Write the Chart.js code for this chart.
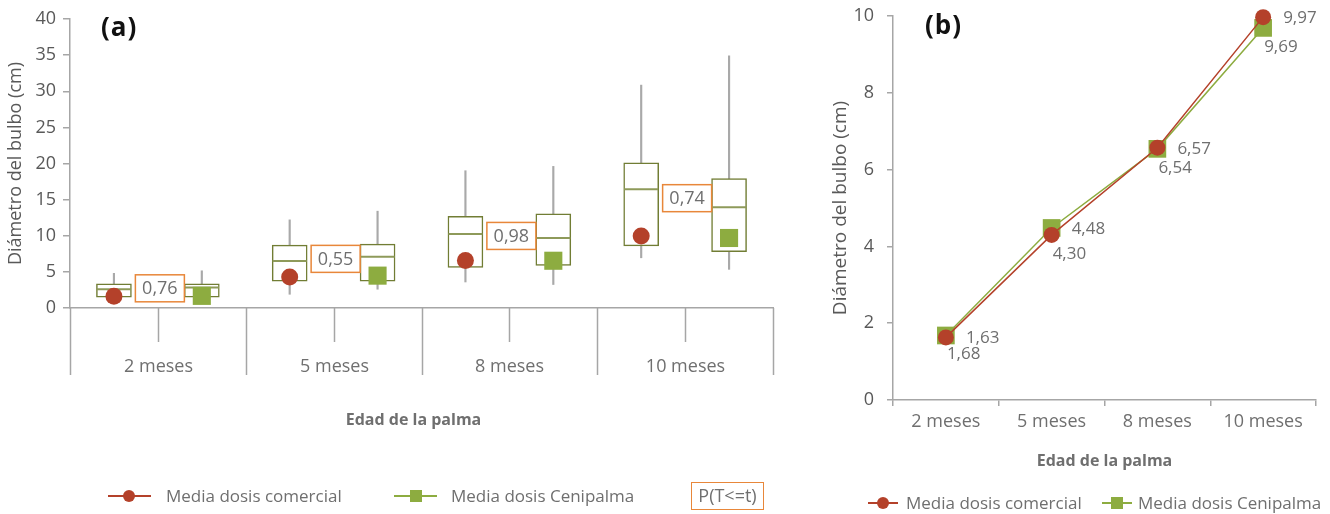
<!DOCTYPE html>
<html>
<head>
<meta charset="utf-8">
<script src="https://cdn.jsdelivr.net/npm/chart.js@4.4.0/dist/chart.umd.min.js"></script>
<style>
html,body{margin:0;padding:0;background:#fff;}
#wrap{position:relative;width:1330px;height:514px;overflow:hidden;font-family:'Open Sans',sans-serif;background:#fff;}
canvas{position:absolute;top:0;}
#ca{left:0;}
#cb{left:800px;}
.t{position:absolute;white-space:nowrap;color:#6f6f6f;font-size:17px;line-height:20px;}
.ln{position:absolute;height:2px;}
.dot{position:absolute;width:12px;height:12px;border-radius:50%;}
.sq{position:absolute;width:12px;height:12px;}
.tag{position:absolute;font-weight:bold;font-size:26px;line-height:30px;color:#111;letter-spacing:1px;}
.pbox{position:absolute;box-sizing:border-box;border:1.5px solid #e8873a;color:#6f6f6f;font-size:18px;line-height:24px;text-align:center;}
</style>
</head>
<body>
<div id="wrap">
  <canvas id="ca" width="800" height="514" style="width:800px;height:514px"></canvas>
  <canvas id="cb" width="530" height="514" style="width:530px;height:514px"></canvas>

  <div class="tag" style="left:101px;top:11px;">(a)</div>
  <div class="tag" style="left:925px;top:9px;">(b)</div>

  <!-- legend (a) -->
  <div class="ln" style="left:108px;top:495px;width:43px;background:#b4412a;"></div>
  <div class="dot" style="left:123px;top:490px;background:#b4412a;"></div>
  <div class="t" style="left:166px;top:486px;">Media dosis comercial</div>
  <div class="ln" style="left:394px;top:495px;width:43px;background:#8dac40;"></div>
  <div class="sq" style="left:410px;top:490px;background:#8dac40;"></div>
  <div class="t" style="left:451px;top:486px;">Media dosis Cenipalma</div>
  <div class="pbox" style="left:691px;top:482px;width:73px;height:28px;">P(T&lt;=t)</div>

  <!-- legend (b) -->
  <div class="ln" style="left:868px;top:502px;width:30px;background:#b4412a;"></div>
  <div class="dot" style="left:877px;top:497px;background:#b4412a;"></div>
  <div class="t" style="left:906px;top:493px;">Media dosis comercial</div>
  <div class="ln" style="left:1102px;top:502px;width:30px;background:#8dac40;"></div>
  <div class="sq" style="left:1111px;top:497px;background:#8dac40;"></div>
  <div class="t" style="left:1138px;top:493px;">Media dosis Cenipalma</div>
</div>

<script>
// ---------- data ----------
const categories = ['2 meses', '5 meses', '8 meses', '10 meses'];

// box plot (a): dosis comercial
const comMin = [0.9, 1.9, 3.6, 6.95];
const comQ1  = [1.5, 3.7, 5.6, 8.6];
const comMed = [2.6, 6.5, 10.25, 16.45];
const comQ3  = [3.35, 8.7, 12.7, 20.1];
const comMax = [4.8, 12.2, 19.0, 30.85];

// box plot (a): dosis Cenipalma
const cenMin = [0.9, 2.6, 3.25, 5.35];
const cenQ1  = [1.5, 3.7, 5.9, 7.8];
const cenMed = [2.85, 7.1, 9.7, 13.95];
const cenQ3  = [3.35, 8.85, 13.05, 17.9];
const cenMax = [5.15, 13.4, 19.6, 34.9];

// means (a) and (b)
const meanCom = [1.63, 4.30, 6.57, 9.97];
const meanCen = [1.68, 4.48, 6.54, 9.69];

// p-values P(T<=t)
const pValues = [0.76, 0.55, 0.98, 0.74];

// tick labels
const yTicksA = [0, 5, 10, 15, 20, 25, 30, 35, 40];
const yTicksB = [0, 2, 4, 6, 8, 10];

// ---------- styles ----------
const RED = '#b4412a';
const GREEN = '#8dac40';
const OLIVE = '#717d34';
const OLIVE_MED = '#8e9a5a';
const AXIS = '#a6a6a6';
const WHISK = '#a9a9a9';
const TEXT = '#6f6f6f';
const TICK = '#595959';
const ORANGE = '#e8873a';
const FONT = "'Open Sans', sans-serif";
const OFF_COM = 0.25, OFF_CEN = 0.75;

Chart.defaults.font.family = FONT;

const fmt = v => v.toFixed(2).replace('.', ',');

// ---------- chart (a) plugins ----------
const axisDecorA = {
  id: 'axisDecorA',
  afterDraw(chart) {
    const {ctx, chartArea, scales: {x}} = chart;
    const b = chartArea.bottom;
    ctx.save();
    ctx.strokeStyle = AXIS;
    ctx.lineWidth = 1.5;
    for (let i = 0; i <= categories.length; i++) {
      const px = Math.round(x.getPixelForValue(i)) + 0.5;
      ctx.beginPath(); ctx.moveTo(px, b); ctx.lineTo(px, b + 67); ctx.stroke();
    }
    ctx.fillStyle = TEXT;
    ctx.font = "18px " + FONT;
    ctx.textAlign = 'center';
    ctx.textBaseline = 'alphabetic';
    categories.forEach((c, i) => {
      const px = Math.round(x.getPixelForValue(i + 0.5)) + 0.5;
      ctx.beginPath(); ctx.moveTo(px, b); ctx.lineTo(px, b + 34); ctx.stroke();
      ctx.fillText(c, px, b + 64);
    });
    ctx.font = "bold 16px " + FONT;
    ctx.fillText('Edad de la palma', (chartArea.left + chartArea.right) / 2 - 8, b + 117);
    ctx.restore();
  }
};

const pLabels = {
  id: 'pLabels',
  afterDatasetsDraw(chart) {
    const {ctx, scales: {x, y}} = chart;
    ctx.save();
    ctx.font = "18px " + FONT;
    ctx.textAlign = 'center';
    ctx.textBaseline = 'middle';
    pValues.forEach((p, i) => {
      const cx = x.getPixelForValue(i + 0.5) + 2;
      const cy = y.getPixelForValue((comMed[i] + cenMed[i]) / 2);
      const w = 49, h = 27;
      ctx.fillStyle = '#fff';
      ctx.fillRect(cx - w / 2, cy - h / 2, w, h);
      ctx.strokeStyle = ORANGE;
      ctx.lineWidth = 1.5;
      ctx.strokeRect(cx - w / 2, cy - h / 2, w, h);
      ctx.fillStyle = TEXT;
      ctx.fillText(fmt(p), cx, cy + 1);
    });
    ctx.restore();
  }
};

const mk = (arr, off) => arr.map((v, i) => ({x: i + off, y: v}));
const mkRange = (lo, hi, off) => lo.map((v, i) => ({x: i + off, y: [v, hi[i]]}));

new Chart(document.getElementById('ca'), {
  type: 'bar',
  data: {
    datasets: [
      {type: 'bar', label: 'wc', data: mkRange(comMin, comMax, OFF_COM), backgroundColor: WHISK, borderWidth: 0, barThickness: 1.5, grouped: false, order: 10},
      {type: 'bar', label: 'wn', data: mkRange(cenMin, cenMax, OFF_CEN), backgroundColor: WHISK, borderWidth: 0, barThickness: 1.5, grouped: false, order: 10},
      {type: 'bar', label: 'bc', data: mkRange(comQ1, comQ3, OFF_COM), backgroundColor: '#fff', borderColor: OLIVE, borderWidth: 1.5, borderSkipped: false, barThickness: 35, grouped: false, order: 8},
      {type: 'bar', label: 'bn', data: mkRange(cenQ1, cenQ3, OFF_CEN), backgroundColor: '#fff', borderColor: OLIVE, borderWidth: 1.5, borderSkipped: false, barThickness: 35, grouped: false, order: 8},
      {type: 'line', label: 'mc', data: mk(comMed, OFF_COM), showLine: false, pointStyle: 'line', pointRadius: 17, pointBorderColor: OLIVE_MED, pointBorderWidth: 2, order: 6, clip: false},
      {type: 'line', label: 'mn', data: mk(cenMed, OFF_CEN), showLine: false, pointStyle: 'line', pointRadius: 17, pointBorderColor: OLIVE_MED, pointBorderWidth: 2, order: 6, clip: false},
      {type: 'line', label: 'Media dosis comercial', data: mk(meanCom, OFF_COM), showLine: false, pointStyle: 'circle', pointRadius: 8.5, pointBackgroundColor: RED, pointBorderWidth: 0, order: 1, clip: false},
      {type: 'line', label: 'Media dosis Cenipalma', data: mk(meanCen, OFF_CEN), showLine: false, pointStyle: 'rect', pointRadius: 12.8, pointBackgroundColor: GREEN, pointBorderWidth: 0, order: 2, clip: false}
    ]
  },
  options: {
    responsive: false, animation: false, events: [],
    layout: {padding: {top: 18, right: 27, left: 0, bottom: 0}},
    plugins: {legend: {display: false}, tooltip: {enabled: false}},
    scales: {
      x: {
        type: 'linear', min: 0, max: categories.length, offset: false,
        grid: {display: false}, ticks: {display: false},
        border: {color: AXIS, width: 1.5},
        afterFit: s => { s.height = 206; }
      },
      y: {
        min: 0, max: 40,
        afterBuildTicks: s => { s.ticks = yTicksA.map(v => ({value: v})); },
        ticks: {padding: 7, color: TICK, font: {size: 18}},
        grid: {drawOnChartArea: false, tickLength: 7, color: AXIS, lineWidth: 1.5},
        border: {color: AXIS, width: 1.5},
        title: {display: true, text: 'Diámetro del bulbo (cm)', color: TICK, font: {size: 18}, padding: {top: 5, bottom: 0}},
        afterFit: s => { s.width = 70; s.paddingTop = 0; s.paddingBottom = 0; }
      }
    }
  },
  plugins: [axisDecorA, pLabels]
});

// ---------- chart (b) ----------
const placeCom = ['right', 'below', 'right', 'right'];
const placeCen = ['below', 'right', 'below', 'below'];

const pointLabelsB = {
  id: 'pointLabelsB',
  afterDatasetsDraw(chart) {
    const {ctx} = chart;
    ctx.save();
    ctx.font = "17px " + FONT;
    ctx.fillStyle = TEXT;
    ctx.textAlign = 'left';
    ctx.textBaseline = 'middle';
    [[0, meanCom, placeCom], [1, meanCen, placeCen]].forEach(([d, vals, place]) => {
      const meta = chart.getDatasetMeta(d);
      meta.data.forEach((pt, i) => {
        const txt = fmt(vals[i]);
        if (place[i] === 'right') ctx.fillText(txt, pt.x + 20, pt.y + 1);
        else ctx.fillText(txt, pt.x + 1, pt.y + 19);
      });
    });
    ctx.restore();
  }
};

new Chart(document.getElementById('cb'), {
  type: 'line',
  data: {
    labels: categories,
    datasets: [
      {label: 'Media dosis comercial', data: meanCom, borderColor: RED, borderWidth: 1.5, tension: 0,
       pointStyle: 'circle', pointRadius: 8, pointBackgroundColor: RED, pointBorderWidth: 0, order: 1, clip: false},
      {label: 'Media dosis Cenipalma', data: meanCen, borderColor: GREEN, borderWidth: 1.5, tension: 0,
       pointStyle: 'rect', pointRadius: 12.5, pointBackgroundColor: GREEN, pointBorderWidth: 0, order: 2, clip: false}
    ]
  },
  options: {
    responsive: false, animation: false, events: [],
    layout: {padding: {top: 16, right: 14, left: 0, bottom: 0}, autoPadding: false},
    plugins: {legend: {display: false}, tooltip: {enabled: false}},
    scales: {
      x: {
        offset: true,
        grid: {offset: true, drawOnChartArea: false, tickLength: 6, color: AXIS, lineWidth: 1.5},
        border: {color: AXIS, width: 1.5},
        ticks: {color: TEXT, font: {size: 18}, padding: 5},
        title: {display: true, text: 'Edad de la palma', color: TEXT, font: {size: 16, weight: 'bold'}, padding: {top: 0, bottom: 43}},
        afterFit: s => { s.height = 114; s.paddingLeft = 0; s.paddingRight = 0; }
      },
      y: {
        min: 0, max: 10,
        afterBuildTicks: s => { s.ticks = yTicksB.map(v => ({value: v})); },
        ticks: {padding: 13, color: TICK, font: {size: 18}},
        grid: {drawOnChartArea: false, tickLength: 6, color: AXIS, lineWidth: 1.5},
        border: {color: AXIS, width: 1.5},
        title: {display: true, text: 'Diámetro del bulbo (cm)', color: TICK, font: {size: 19}, padding: {top: 29, bottom: 0}},
        afterFit: s => { s.width = 93; s.paddingTop = 0; s.paddingBottom = 0; }
      }
    }
  },
  plugins: [pointLabelsB]
});
</script>
</body>
</html>
